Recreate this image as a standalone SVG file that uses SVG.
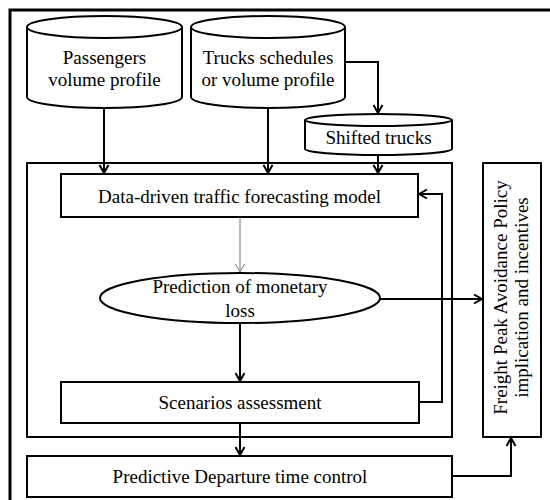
<svg xmlns="http://www.w3.org/2000/svg" width="550" height="500" viewBox="0 0 550 500">
<defs>
<style>
.s{fill:#fff;stroke:#000;stroke-width:2}
.c{fill:none;stroke:#000;stroke-width:2}
text{font-family:'Liberation Serif','Times New Roman',serif;font-size:19px;fill:#000;text-anchor:middle}
</style>
<marker id="ah" viewBox="0 0 12 12" refX="11" refY="6" markerWidth="12" markerHeight="12" markerUnits="userSpaceOnUse" orient="auto">
<polyline points="3,1.5 11,6 3,10.5" fill="none" stroke="#000" stroke-width="2"/>
</marker>
<marker id="ahg" viewBox="0 0 12 12" refX="11" refY="6" markerWidth="12" markerHeight="12" markerUnits="userSpaceOnUse" orient="auto">
<polyline points="3,1.5 11,6 3,10.5" fill="none" stroke="#777" stroke-width="1"/>
</marker>
</defs>
<rect width="550" height="500" fill="#fff"/>
<rect x="10" y="10" width="570" height="520" fill="none" stroke="#000" stroke-width="3"/>
<g id="frame"><rect x="27" y="163" width="425" height="274" class="s"/></g>
<g id="passengers">
<path class="s" d="M27,27 L27,97 A77.5,11 0 0 0 182,97 L182,27"/>
<ellipse class="s" cx="104.5" cy="27" rx="77.5" ry="11"/>
<text x="104.5" y="64">Passengers</text>
<text x="104.5" y="86">volume profile</text>
</g>
<g id="trucks">
<path class="s" d="M191,27 L191,97 A77,11 0 0 0 345,97 L345,27"/>
<ellipse class="s" cx="268" cy="27" rx="77" ry="11"/>
<text x="268" y="64">Trucks schedules</text>
<text x="268" y="86">or volume profile</text>
</g>
<g id="shifted">
<path class="s" d="M305,120 L305,149 A73.5,6 0 0 0 452,149 L452,120"/>
<ellipse class="s" cx="378.5" cy="120" rx="73.5" ry="6"/>
<text x="378.5" y="144">Shifted trucks</text>
</g>
<g id="model">
<rect x="61" y="174" width="357" height="43" class="s"/>
<text x="239.5" y="203">Data-driven traffic forecasting model</text>
</g>
<g id="loss">
<ellipse class="s" cx="240" cy="298" rx="140" ry="25"/>
<text x="240" y="293">Prediction of monetary</text>
<text x="240" y="317">loss</text>
</g>
<g id="scenarios">
<rect x="61" y="382" width="358" height="41" class="s"/>
<text x="240" y="409">Scenarios assessment</text>
</g>
<g id="predictive">
<rect x="27" y="456" width="425" height="41" class="s"/>
<text x="240" y="483">Predictive Departure time control</text>
</g>
<g id="policy">
<rect x="483" y="163" width="58" height="274" class="s"/>
<text transform="translate(507,297.5) rotate(-90)">Freight Peak Avoidance Policy</text>
<text transform="translate(528,297.5) rotate(-90)">implication and incentives</text>
</g>
<g id="connectors">
<line class="c" x1="104" y1="108" x2="104" y2="173" marker-end="url(#ah)"/>
<line class="c" x1="268" y1="108" x2="268" y2="173" marker-end="url(#ah)"/>
<polyline class="c" points="345,62 378,62 378,113" marker-end="url(#ah)"/>
<line class="c" x1="378" y1="155" x2="378" y2="173" marker-end="url(#ah)"/>
<line x1="240" y1="217" x2="240" y2="272" stroke="#777" stroke-width="1" marker-end="url(#ahg)"/>
<line class="c" x1="240" y1="323" x2="240" y2="381" marker-end="url(#ah)"/>
<line class="c" x1="380" y1="299" x2="482" y2="299" marker-end="url(#ah)"/>
<polyline class="c" points="419,402 442,402 442,194 419,194" marker-end="url(#ah)"/>
<line class="c" x1="240" y1="423" x2="240" y2="455" marker-end="url(#ah)"/>
<polyline class="c" points="452,476 511,476 511,438" marker-end="url(#ah)"/>
</g>
</svg>
